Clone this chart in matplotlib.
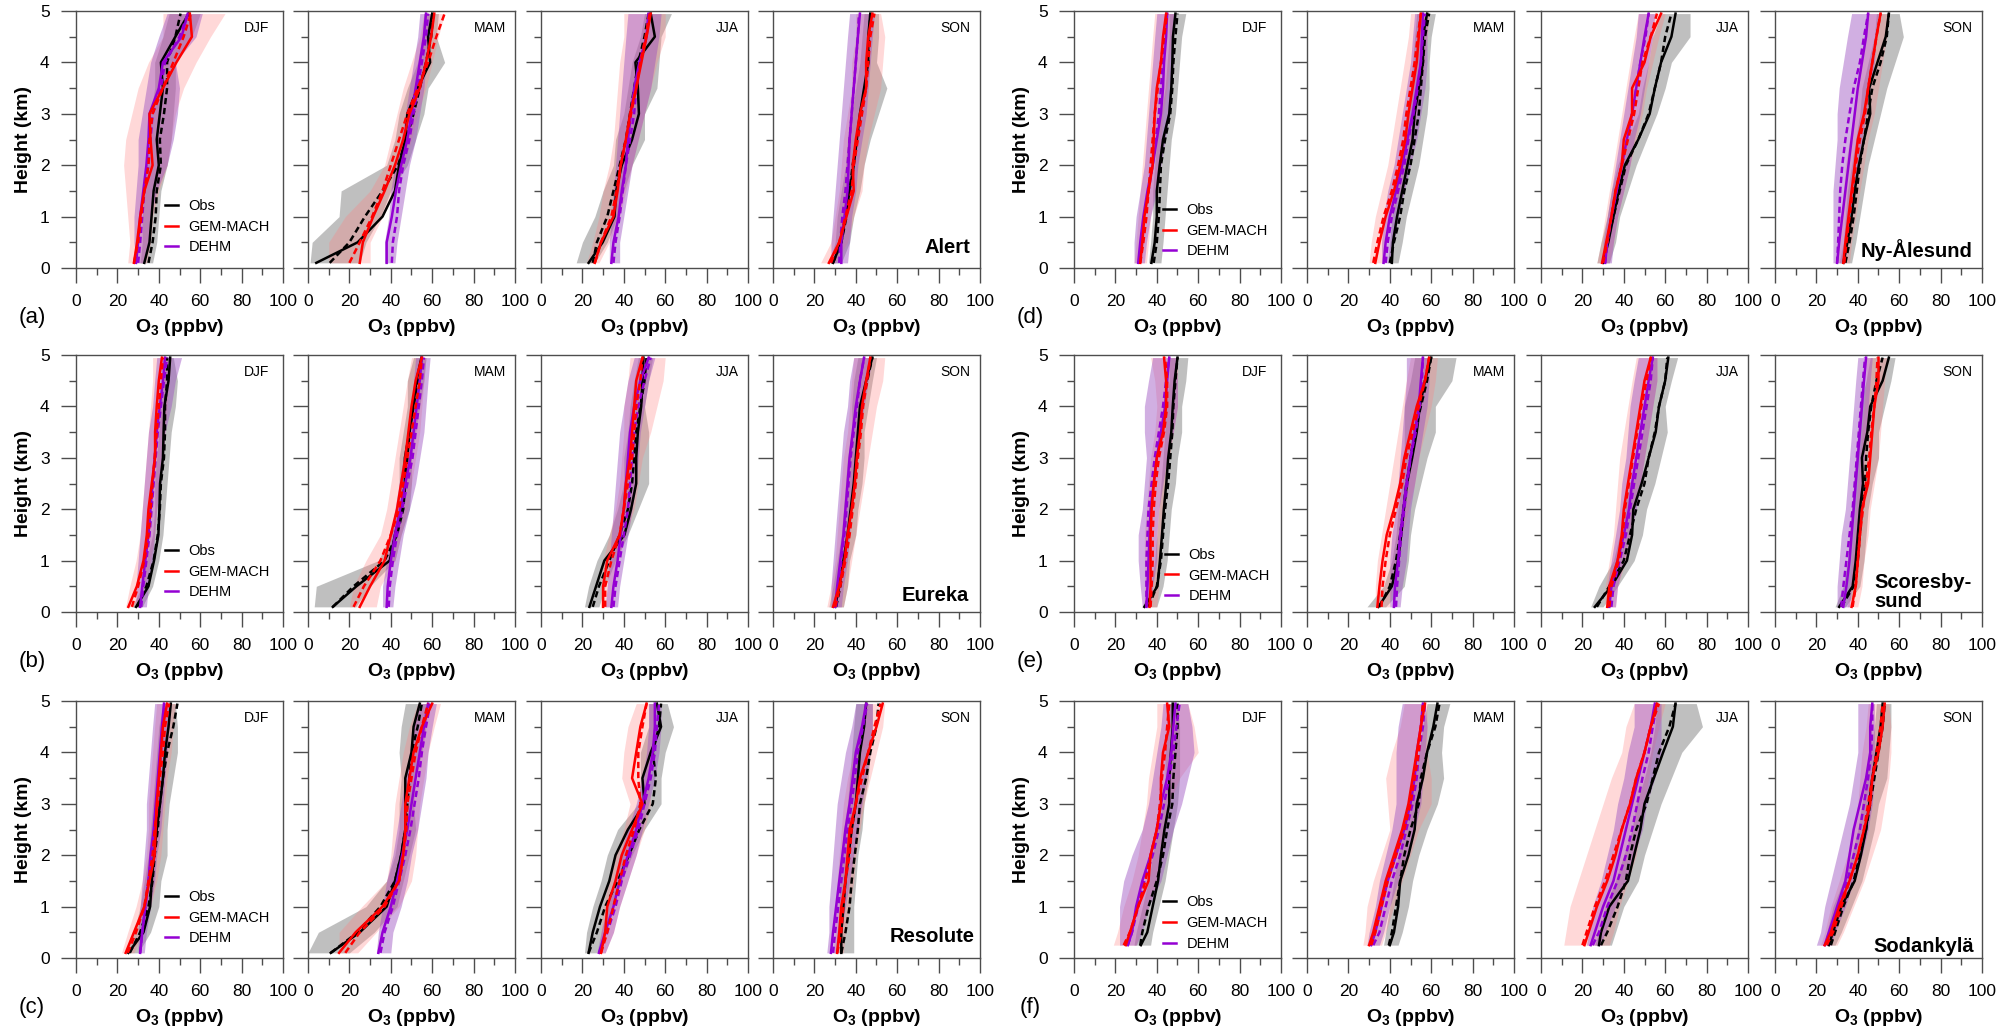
import matplotlib
matplotlib.use('Agg')
import matplotlib.pyplot as plt
from matplotlib.ticker import MultipleLocator

plt.rcParams['font.family'] = ['Liberation Sans', 'DejaVu Sans']
plt.rcParams['mathtext.fontset'] = 'custom'
plt.rcParams['mathtext.rm'] = 'Liberation Sans'
plt.rcParams['mathtext.bf'] = 'Liberation Sans:bold'

# heights (km) of the read-off levels
heights = [0.1, 0.5, 1.0, 1.5, 2.0, 2.5, 3.0, 3.5, 4.0, 4.5, 4.95]
heights_sod = [0.25, 0.5, 1.0, 1.5, 2.0, 2.5, 3.0, 3.5, 4.0, 4.5, 4.95]

seasons = ['DJF', 'MAM', 'JJA', 'SON']
stations = ['Alert', 'Eureka', 'Resolute', 'Ny-Ålesund', 'Scoresby-\nsund', 'Sodankylä']
letters = ['(a)', '(b)', '(c)', '(d)', '(e)', '(f)']

# each profile: [median, mean, low, high]  (O3, ppbv)
# ---- Alert
alert_djf_obs = [[33, 35.5, 36.5, 37.5, 40, 39, 40.5, 42, 41, 48, 54.5],
                 [35, 37, 38.5, 39, 41, 40.5, 42.5, 44, 44, 48, 50.5],
                 [31, 32, 32, 33, 34, 35, 36, 38, 38, 42, 45],
                 [37, 39, 40, 41, 44, 46, 47, 48, 48, 56, 60]]
alert_djf_gem = [[28, 29.5, 31, 33, 37, 36, 35.5, 42, 48.5, 56, 55],
                 [28, 30, 31.5, 33, 35, 35.5, 37, 42, 47, 52, 55.5],
                 [25, 26, 25, 24, 23, 24, 27, 30, 35, 42, 42],
                 [34, 36, 37, 40, 44, 46, 48, 52, 58, 65, 72]]
alert_djf_dehm = [[29, 30, 31, 32.5, 34, 35, 35.5, 40, 42, 51, 54],
                  [30, 31, 32, 33, 35, 36, 37, 41, 43, 50, 54],
                  [29, 28, 28, 29, 30, 30, 32, 34, 36, 40, 44],
                  [33, 35, 36, 39, 44, 47, 49, 50, 48, 58, 61]]
alert_mam_obs = [[4, 24, 36, 42, 44, 47, 48, 53, 59, 58, 60],
                 [10.5, 20, 27.5, 36, 43.5, 47.5, 51, 54, 57, 59.5, 60.5],
                 [1, 2, 15, 16, 38, 42, 44, 48, 53, 55, 56],
                 [25, 28, 35, 40, 48, 52, 56, 58, 66, 62, 63]]
alert_mam_gem = [[25, 26.5, 31.5, 37, 42, 46, 49, 54, 57, 59.5, 61],
                 [20, 25, 31, 36, 40, 44, 48, 53, 58, 62, 66],
                 [10, 10, 18, 30, 37, 40, 43, 46, 50, 54, 56],
                 [30, 30, 36, 42, 46, 50, 53, 57, 60, 63, 66]]
alert_mam_dehm = [[38, 38, 40.5, 42.5, 45, 48, 50, 52, 54, 56, 57],
                  [40.5, 41, 43, 44, 46, 49, 51, 53, 55, 57, 58],
                  [37, 37, 39, 40, 42, 45, 47, 49, 51, 53, 54],
                  [42, 43, 45, 47, 49, 52, 54, 56, 57, 59, 60]]
alert_jja_obs = [[23, 29.8, 35.5, 36.3, 39, 44, 47.3, 46.8, 45.6, 55, 53],
                 [25, 27, 32, 35, 38, 41, 43, 45, 47, 50, 52],
                 [17, 20, 26, 30, 35, 36, 40, 42, 44, 48, 50],
                 [26, 32, 37, 40, 44, 50, 50, 56, 57, 58, 63]]
alert_jja_gem = [[26, 29, 35, 37, 38.5, 41, 43, 46, 48.5, 51, 53],
                 [26, 29, 34, 36.5, 38.5, 41, 43.5, 46, 48, 50.5, 52.5],
                 [22, 25, 28, 30, 33, 35, 36, 37, 38, 40, 40],
                 [28, 33, 38, 41, 44, 47, 50, 53, 56, 60, 60]]
alert_jja_dehm = [[34, 35, 37.5, 39, 41, 42, 43.5, 45, 47.5, 51, 52],
                  [35, 36, 38, 39.5, 41, 43, 45, 46, 48, 51, 52],
                  [33, 33, 34, 35, 36, 37, 38, 39, 40, 41, 42],
                  [38, 38, 40, 42, 44, 47, 50, 53, 55, 57, 58]]
alert_son_obs = [[29, 33, 35, 37, 39, 40.5, 42, 44, 46, 46, 47],
                 [29, 33, 35.5, 37, 38.5, 40.5, 42.5, 44.5, 46, 46.5, 47],
                 [27, 30, 31, 33, 35, 36, 38, 40, 42, 43, 44],
                 [33, 37, 39, 42, 44, 47, 51, 55, 50, 51, 51]]
alert_son_gem = [[27, 32, 35.5, 39, 38.5, 40, 42, 45, 45, 46, 48],
                 [28, 32, 35, 38, 39, 41, 43, 45, 46, 47, 49],
                 [23, 28, 30, 32, 33, 34, 36, 38, 38, 40, 40],
                 [30, 36, 39, 43, 44, 46, 49, 52, 53, 54, 52]]
alert_son_dehm = [[33, 33, 34.5, 36, 36.5, 37, 38, 39, 40, 41, 42],
                  [32, 32.5, 33.5, 35, 36, 37, 38, 39, 40, 41, 41.5],
                  [28, 28, 29, 30, 31, 32, 33, 34, 35, 36, 37],
                  [36, 37, 38, 40, 41, 43, 45, 46, 47, 48, 49]]
# ---- Eureka
eureka_djf_obs = [[29, 35, 37.7, 39.8, 40.3, 40.6, 42, 42.3, 42.7, 44.7, 45.5],
                  [29.5, 34, 37.5, 39.5, 40.5, 41, 42.5, 43, 43, 44, 44],
                  [27, 32, 34, 37, 38, 38, 39, 40, 41, 42, 42],
                  [32, 37, 40, 42, 43, 44, 45, 46, 48, 49, 47]]
eureka_djf_gem = [[25.3, 29.4, 32.6, 34.2, 35, 36.6, 38.2, 38.2, 39, 40, 41.5],
                  [27, 30, 33, 35, 36, 37, 38, 39, 40, 41, 42],
                  [24, 26, 29, 31, 32, 33, 34, 35, 36, 37, 37],
                  [30, 33, 36, 38, 39, 40, 42, 43, 44, 45, 46]]
eureka_djf_dehm = [[31, 32, 33.5, 35, 36, 37, 38, 39, 40.5, 42, 43],
                   [31.5, 32.5, 34, 35.5, 36.5, 37.5, 38.5, 39.5, 41, 42.5, 44],
                   [29, 29, 30, 31, 32, 33, 34, 35, 37, 38, 39],
                   [34, 35, 37, 38, 39, 41, 42, 43, 46, 48, 51]]
eureka_mam_obs = [[12, 23.4, 39.5, 42, 45, 46.8, 46.8, 49, 50.8, 52.4, 54.8],
                  [12, 22, 37, 43, 46, 47, 48, 49, 51, 53, 55],
                  [3, 4, 34, 40, 43, 44, 44, 46, 48, 48, 51],
                  [23, 30, 42, 45, 49, 50, 50, 52, 54, 56, 57]]
eureka_mam_gem = [[25, 30, 37, 40, 43, 45, 47, 48.5, 50, 52, 55],
                  [22, 27, 35, 40, 44, 46, 48, 50, 52, 54, 55],
                  [20, 22, 28, 35, 38, 40, 42, 44, 46, 48, 50],
                  [33, 35, 42, 45, 48, 50, 52, 54, 55, 56, 57]]
eureka_mam_dehm = [[38, 38.5, 40, 42, 44.5, 47, 49.5, 51, 52.5, 54, 55],
                   [39, 39.5, 41, 43, 45.5, 48, 50.5, 52, 53.5, 55, 56],
                   [36, 36, 38, 40, 42, 44, 46, 48, 50, 51, 52],
                   [41, 42, 44, 46, 49, 52, 54, 56, 57, 58, 59]]
eureka_jja_obs = [[23.4, 26.6, 30.6, 40.3, 43.5, 46, 46, 46.8, 48.4, 49, 49.5],
                  [25, 28, 33, 38, 42, 44, 45, 46, 48, 50, 51],
                  [21, 23, 27, 33, 37, 40, 40, 42, 43, 45, 47],
                  [28, 31, 36, 42, 47, 52, 52, 52, 50, 52, 54]]
eureka_jja_gem = [[30, 30, 32, 38, 40, 41, 43, 44, 45, 46, 49],
                  [31, 31, 34, 38, 40, 42, 44, 45, 46, 48, 49],
                  [29, 29, 30, 33, 36, 38, 39, 40, 40, 42, 43],
                  [34, 34, 37, 41, 45, 47, 49, 53, 56, 59, 60]]
eureka_jja_dehm = [[34, 35, 37, 38.5, 40, 41, 42, 43, 45, 48, 52],
                   [35, 36, 38, 40, 42, 43, 44, 45, 47, 50, 53],
                   [31, 32, 33, 34, 35, 36, 37, 38, 40, 42, 45],
                   [37, 38, 40, 42, 44, 46, 47, 48, 50, 52, 55]]
eureka_son_obs = [[30, 32, 34, 36, 37.5, 39, 40, 41, 42, 45, 48],
                  [30.5, 32.5, 34.5, 36.5, 38, 39.5, 40.5, 41.5, 42.5, 45.5, 48],
                  [27, 29, 31, 33, 34, 35, 36, 38, 38, 39, 41],
                  [34, 36, 37, 40, 41, 43, 44, 44, 46, 48, 50]]
eureka_son_gem = [[29, 32, 34.5, 36, 38, 39.5, 40.5, 42, 43, 45, 47],
                  [30, 32.5, 35, 37, 38.5, 40, 41, 42.5, 43.5, 45.5, 47],
                  [26, 28, 30, 31, 32, 33, 34, 36, 37, 38, 39],
                  [34, 36, 38, 40, 42, 44, 46, 48, 50, 53, 54]]
eureka_son_dehm = [[30, 31, 32.5, 34, 35, 36, 37, 38.5, 40, 42, 44],
                   [30.5, 31.5, 33, 34.5, 35.5, 36.5, 37.5, 39, 40.5, 42, 44],
                   [28, 28, 29, 30, 31, 32, 33, 34, 36, 37, 39],
                   [33, 34, 36, 37, 38, 39, 40, 42, 44, 46, 48]]
# ---- Resolute
resolute_djf_obs = [[25.3, 32.6, 35.8, 36.6, 37.7, 39, 40.6, 42, 43, 44.7, 45.8],
                    [26, 31, 35, 37, 38, 39.5, 40.5, 42, 44, 47, 49],
                    [24, 28, 31, 33, 35, 36, 37, 38, 39, 40, 42],
                    [30, 36, 40, 41, 44, 44, 45, 47, 49, 49, 48]]
resolute_djf_gem = [[24, 28, 33, 35.5, 38, 38.5, 39, 40, 41, 42, 44],
                    [25, 29, 33, 35, 37, 38, 39.5, 40.5, 42, 43, 45],
                    [22, 25, 29, 32, 34, 35, 35, 36, 37, 38, 39],
                    [28, 32, 36, 39, 41, 42, 43, 44, 46, 47, 48]]
resolute_djf_dehm = [[31, 32, 33.5, 35, 36, 37.5, 38.5, 39.5, 40.5, 41.5, 42.5],
                     [31, 32, 33.5, 35, 36.5, 38, 39, 40, 41, 42, 43],
                     [30, 30, 31, 32, 33, 34, 34, 35, 36, 37, 38],
                     [33, 34, 36, 38, 39, 41, 42, 43, 44, 45, 46]]
resolute_mam_obs = [[11, 25, 38, 42, 45, 47, 47, 47, 50, 51, 54],
                    [11, 24, 35, 42, 45, 47, 48, 49, 50, 53, 55],
                    [0, 5, 28, 38, 42, 44, 44, 45, 44, 45, 47],
                    [20, 32, 43, 46, 49, 52, 51, 52, 55, 57, 58]]
resolute_mam_gem = [[15, 23, 36, 44, 46, 47, 47, 49, 51, 55, 60],
                    [18, 25, 37, 44, 46, 47.5, 48, 50, 52, 55, 58],
                    [15, 15, 26, 38, 40, 41, 42, 44, 46, 49, 53],
                    [24, 33, 44, 50, 52, 53, 54, 56, 58, 61, 64]]
resolute_mam_dehm = [[34, 36, 40, 43, 45.5, 48, 50, 52, 54, 56, 58],
                     [35, 37, 41, 44, 47, 49.5, 51.5, 53.5, 55, 57, 59],
                     [33, 34, 36, 38, 41, 43, 45, 47, 49, 51, 53],
                     [40, 41, 45, 48, 50, 53, 55, 57, 58, 60, 62]]
resolute_jja_obs = [[23, 25, 28.5, 33, 36, 42, 50, 49, 53, 58, 56],
                    [23, 27, 31, 37, 42.5, 47.5, 54, 55.5, 54, 57, 58],
                    [21, 22, 25, 29, 32, 37, 47, 48, 48, 52, 52],
                    [27, 31, 34, 39, 44, 50, 58, 58, 60, 64, 61]]
resolute_jja_gem = [[29, 31, 32, 36, 39, 44, 49, 44, 46, 48, 51],
                    [29, 32, 35, 38, 41, 45, 48, 47, 47, 49, 51],
                    [28, 29, 30, 33, 36, 40, 43, 39, 40, 42, 46],
                    [31, 35, 38, 42, 46, 50, 53, 52, 53, 55, 55]]
resolute_jja_dehm = [[28, 31, 35, 38, 42, 46, 49, 52, 54, 55, 55],
                     [28, 32, 36, 39, 43, 47, 50, 53, 55, 56, 57],
                     [27, 29, 32, 35, 38, 42, 46, 49, 51, 52, 52],
                     [31, 35, 38, 42, 46, 49, 52, 55, 57, 58, 58]]
resolute_son_obs = [[33, 33, 34, 35, 36.5, 38, 40, 41, 42, 44, 45],
                    [33, 35, 37, 38, 39.5, 41, 42, 45, 47, 50, 51],
                    [30, 31, 32, 32, 33, 34, 36, 37, 38, 39, 40],
                    [39, 39, 39, 40, 41, 43, 44, 46, 47, 48, 48]]
resolute_son_gem = [[31, 32, 33, 35, 36, 37, 40, 42, 46, 50, 53],
                    [31, 33, 34, 35, 37, 38, 40, 43, 46, 49, 52],
                    [29, 30, 30, 31, 32, 33, 34, 36, 39, 42, 44],
                    [34, 35, 37, 39, 40, 42, 44, 47, 50, 53, 54]]
resolute_son_dehm = [[28, 29, 30.5, 32, 33.5, 35, 37, 38.5, 40, 43, 45],
                     [29, 30, 31.5, 33, 34.5, 36, 38, 39.5, 41, 43.5, 45.5],
                     [26, 27, 27, 28, 29, 30, 31, 33, 35, 38, 40],
                     [31, 33, 35, 37, 39, 41, 43, 45, 47, 48, 48]]
# ---- Ny-Alesund
nyalesund_djf_obs = [[37.4, 39, 40, 40, 41.4, 43, 46, 47, 47.5, 47.8, 49],
                     [38.5, 40, 41, 41.5, 42, 44, 46.5, 47.5, 48, 49, 50],
                     [36, 37, 38, 38, 39, 40, 42, 44, 45, 46, 46],
                     [42, 43, 44, 45, 46, 47, 49, 50, 51, 52, 54]]
nyalesund_djf_gem = [[32, 33, 34, 36, 38, 38.5, 39, 40, 42, 43, 44.5],
                     [32, 33.5, 35, 36, 37, 38, 39, 40.5, 42, 43.5, 45],
                     [29, 30, 31, 32, 33, 34, 35, 36, 37, 38, 39],
                     [35, 36, 37, 39, 41, 42, 43, 45, 46, 47, 48]]
nyalesund_djf_dehm = [[31, 32, 33.5, 35.5, 38, 40, 42, 43, 43.5, 44.5, 45],
                      [31.5, 32.5, 34, 36, 38, 39.5, 41, 42, 43, 44, 45],
                      [29, 29, 30, 32, 34, 35, 36, 37, 38, 39, 40],
                      [34, 35, 37, 40, 42, 44, 46, 47, 48, 48, 49]]
nyalesund_mam_obs = [[41, 41.5, 43.5, 46, 48.5, 51, 52, 54, 56, 56, 58],
                     [40, 42, 45, 47, 50, 52, 54, 55, 56, 57, 59],
                     [39, 40, 41, 43, 45, 47, 48, 50, 51, 52, 53],
                     [44, 46, 48, 51, 54, 56, 58, 59, 59, 60, 62]]
nyalesund_mam_gem = [[33, 35, 38, 42, 45, 47.5, 49, 51, 53, 54, 55],
                     [32, 34, 37, 41, 44, 46.5, 48, 50, 52, 53.5, 55],
                     [30, 31, 33, 36, 39, 41, 43, 45, 47, 49, 50],
                     [36, 38, 41, 45, 48, 51, 53, 55, 57, 58, 59]]
nyalesund_mam_dehm = [[37, 38, 40, 43, 46, 48.5, 51, 53, 55, 55.5, 56],
                      [38, 39, 41, 44, 47, 49, 51.5, 53.5, 55, 56, 57],
                      [36, 36, 37, 39, 42, 44, 46, 48, 50, 51, 52],
                      [40, 42, 44, 47, 50, 53, 55, 57, 58, 58, 58]]
nyalesund_jja_obs = [[30, 32.5, 35, 37.5, 40.5, 47, 52.5, 55, 58, 63, 65],
                     [30, 32, 35, 38, 41, 47, 52, 55, 58, 60, 63],
                     [27, 29, 32, 34, 37, 42, 47, 49, 52, 54, 58],
                     [33, 36, 38, 42, 46, 51, 56, 60, 63, 72, 72]]
nyalesund_jja_gem = [[29.5, 31.5, 34, 36, 39, 40, 44, 44, 50, 53, 58],
                     [30, 32, 34, 36, 39, 42, 45, 47, 49, 53, 56],
                     [27, 29, 31, 33, 35, 37, 39, 41, 43, 45, 47],
                     [33, 35, 37, 40, 43, 46, 49, 51, 54, 57, 60]]
nyalesund_jja_dehm = [[31, 32, 34, 36.5, 39, 41.5, 44, 46, 48, 50, 52],
                      [31, 32, 34, 36.5, 39, 41.5, 44, 46, 48, 50.5, 52],
                      [30, 30, 32, 34, 36, 38, 40, 42, 44, 46, 47],
                      [34, 35, 37, 40, 43, 45, 48, 50, 52, 54, 55]]
nyalesund_son_obs = [[33, 35, 37, 38.5, 40.5, 43, 46, 45.5, 49.5, 53.5, 55],
                     [34, 36, 38, 39.5, 41, 43, 45, 47, 51, 54, 55],
                     [31, 33, 34, 35, 37, 39, 41, 42, 45, 48, 49],
                     [37, 39, 41, 43, 45, 48, 51, 54, 58, 62, 60]]
nyalesund_son_gem = [[33, 34, 35.5, 37, 38.5, 40, 43, 45, 47, 49, 51],
                     [33.5, 34.5, 36, 37.5, 39, 41, 43.5, 45, 47, 49, 51],
                     [30, 31, 32, 33, 34, 36, 38, 40, 42, 44, 45],
                     [36, 37, 39, 41, 43, 45, 48, 50, 52, 54, 55]]
nyalesund_son_dehm = [[30, 31, 32.5, 34, 35.5, 37, 38.5, 40, 42, 44, 45],
                      [30, 30.5, 31, 31.5, 32.5, 34, 36, 38, 41, 43, 45],
                      [28, 28, 28, 28, 29, 30, 30, 31, 33, 35, 37],
                      [34, 35, 36, 38, 40, 42, 44, 46, 48, 49, 50]]
# ---- Scoresbysund
scoresby_djf_obs = [[34, 40.3, 41.5, 42.5, 43.4, 44.6, 45.5, 47, 47.7, 48.6, 50],
                    [36, 40, 42, 43, 44, 45.5, 46.5, 47.5, 48, 49, 50],
                    [33, 37, 39, 40, 41, 42, 43, 44, 44, 46, 46],
                    [40, 43, 45, 46, 47, 49, 50, 52, 52, 54, 55]]
scoresby_djf_gem = [[36.5, 37, 37, 37, 37.5, 38.5, 40, 43, 44.5, 44.5, 43.5],
                    [37, 37.5, 38, 38, 38.5, 39.5, 41, 43.5, 45, 45, 44],
                    [34, 34, 34, 34, 35, 36, 37, 39, 40, 39, 37],
                    [40, 41, 41, 42, 43, 44, 46, 48, 50, 50, 50]]
scoresby_djf_dehm = [[35, 35.5, 36, 36.5, 37, 38.5, 40, 42, 44, 45, 46],
                     [35, 35, 35, 35.5, 36, 37.5, 39, 41, 43, 44.5, 46],
                     [33, 32, 31, 31, 33, 34, 35, 34, 34, 36, 38],
                     [37, 38, 40, 40, 41, 43, 45, 48, 50, 50, 49]]
scoresby_mam_obs = [[34.5, 41, 44, 45.5, 46.8, 48.3, 50.8, 53, 54.5, 57, 60],
                    [35, 40, 43, 45, 46.5, 48, 50, 52, 55, 58, 60],
                    [29, 37, 41, 43, 44, 46, 47, 47, 47, 50, 52],
                    [38, 47, 49, 50, 52, 55, 58, 62, 62, 70, 72]]
scoresby_mam_gem = [[34, 35, 36.5, 38.5, 42, 45, 47, 50, 53, 57, 59],
                    [36, 36.5, 38, 40, 43, 46, 48, 51, 54, 57, 59],
                    [33, 33, 34, 36, 38, 40, 42, 44, 46, 48, 50],
                    [40, 41, 43, 46, 49, 52, 54, 57, 60, 62, 63]]
scoresby_mam_dehm = [[42, 42.5, 44, 45, 46.5, 48, 50, 52, 54, 55, 56],
                     [43, 43.5, 44.5, 45.5, 47, 48.5, 50, 52.5, 54.5, 55.5, 56],
                     [40, 40, 40, 41, 43, 44, 45, 46, 47, 48, 48],
                     [45, 46, 48, 49, 50, 52, 54, 56, 58, 59, 59]]
scoresby_jja_obs = [[26, 34, 41.5, 44, 44.6, 48.6, 52, 55.4, 57, 60, 61.5],
                    [27, 33, 40, 43, 46, 50, 52, 55, 57, 60, 61],
                    [24, 28, 35, 38, 40, 43, 47, 49, 50, 52, 54],
                    [30, 37, 45, 49, 51, 55, 58, 61, 60, 63, 66]]
scoresby_jja_gem = [[32, 33, 37, 39, 40, 42, 44, 46, 48, 50, 53],
                    [33, 34, 37.5, 39.5, 40.5, 42.5, 44.5, 46.5, 48.5, 51, 53],
                    [31, 31, 33, 35, 36, 37, 38, 40, 42, 44, 46],
                    [36, 37, 41, 43, 45, 48, 50, 52, 54, 56, 56]]
scoresby_jja_dehm = [[33, 34, 37, 40, 42.5, 44, 46, 48, 50, 52, 54],
                     [34, 35, 38, 41, 43, 45, 47, 49, 51, 53, 54],
                     [32, 32, 34, 36, 38, 39, 41, 42, 43, 45, 47],
                     [36, 37, 40, 43, 46, 48, 50, 52, 54, 56, 56]]
scoresby_son_obs = [[31, 37.5, 39, 40, 41, 42.5, 42, 44.6, 46, 52, 55],
                    [32, 38, 40, 41, 42, 43.5, 44, 45, 46.5, 49, 52],
                    [29, 33, 35, 36, 37, 38, 39, 40, 41, 44, 46],
                    [34, 41, 43, 44, 45, 47, 50, 50, 53, 56, 58]]
scoresby_son_gem = [[37, 39, 40, 41, 42, 45, 46, 47, 48, 50, 50],
                    [37.5, 39, 40, 41, 42.5, 44, 45.5, 46.5, 48, 49, 49.5],
                    [35, 36, 37, 38, 39, 40, 41, 42, 43, 44, 44],
                    [40, 42, 43, 45, 46, 48, 50, 51, 52, 53, 54]]
scoresby_son_dehm = [[33, 34.5, 36, 37, 38, 39, 40, 41, 42, 43, 44],
                     [32, 33, 34.5, 36, 37.5, 38.5, 39.5, 40.5, 41.5, 42.5, 43.5],
                     [30, 30, 31, 32, 34, 35, 36, 37, 38, 39, 40],
                     [36, 37, 39, 40, 41, 42, 43, 44, 45, 46, 47]]
# ---- Sodankyla (levels from heights_sod)
sodankyla_djf_obs = [[32.3, 35.4, 38, 40.6, 42, 43.7, 46, 46, 46.8, 47.7, 47.7],
                     [32, 33, 36, 40, 43, 45, 47.5, 48, 49, 50, 50],
                     [29, 30, 33, 36, 38, 40, 43, 44, 44, 45, 45],
                     [37, 38, 41, 44, 46, 48, 50, 51, 51, 51, 50]]
sodankyla_djf_gem = [[25, 27, 31, 36, 37, 40, 42, 42, 43, 46, 45],
                     [24, 27, 31, 34.5, 37, 40, 41.5, 42.5, 44, 45, 46],
                     [19, 21, 24, 28, 31, 33, 35, 36, 38, 40, 40],
                     [30, 32, 36, 40, 42, 44, 46, 51, 60, 58, 55]]
sodankyla_djf_dehm = [[26, 28, 30, 33, 37, 40, 42, 45, 47, 48, 49],
                      [26, 28, 31, 34, 38, 41, 43.5, 46, 48, 49.5, 51],
                      [22, 22, 22, 24, 28, 33, 36, 38, 40, 42, 43],
                      [30, 33, 36, 42, 45, 48, 52, 55, 58, 57, 55]]
sodankyla_mam_obs = [[40, 42, 44, 45, 49, 52, 53, 56, 58, 61, 63],
                     [39.5, 41, 43, 45, 47, 50, 54, 55, 58, 62, 64],
                     [37, 38, 40, 42, 44, 47, 49, 52, 54, 56, 58],
                     [44, 46, 49, 51, 54, 58, 63, 66, 65, 66, 69]]
sodankyla_mam_gem = [[30, 32, 35, 38, 42, 46, 49, 51, 53, 55, 57],
                     [31, 33, 36, 39, 43, 47, 50, 52, 54, 55, 56],
                     [27, 28, 29, 32, 36, 40, 39, 38, 41, 45, 47],
                     [36, 38, 42, 46, 50, 54, 60, 60, 58, 58, 58]]
sodankyla_mam_dehm = [[31, 33, 36, 39, 43, 47, 50, 52, 53, 55, 56],
                      [32, 35, 38, 41, 45, 48, 51, 53, 54, 56, 57],
                      [29, 30, 33, 35, 38, 41, 43, 43, 43, 44, 46],
                      [35, 37, 40, 44, 48, 52, 55, 56, 57, 58, 57]]
sodankyla_jja_obs = [[28, 29, 33, 42, 45, 48, 50, 54.5, 59, 63.7, 65],
                     [29, 32, 37, 41, 43, 46, 51, 54, 57, 62, 65],
                     [26, 28, 31, 36, 40, 44, 46, 50, 53, 55, 56],
                     [34, 36, 40, 47, 50, 54, 58, 63, 68, 78, 75]]
sodankyla_jja_gem = [[21, 23, 27, 32, 36, 39, 43, 46, 50, 53, 56],
                     [20, 22, 26, 31, 35, 39, 43, 46, 50, 53, 57],
                     [11, 12, 14, 18, 22, 26, 30, 34, 39, 41, 45],
                     [33, 35, 38, 42, 46, 48, 50, 52, 54, 57, 60]]
sodankyla_jja_dehm = [[24, 26, 30, 35, 38, 41, 44, 47, 50, 53, 55],
                      [25, 28, 32, 37, 41, 44, 46.5, 49, 52, 54, 56],
                      [22, 23, 25, 29, 32, 35, 37, 40, 42, 45, 45],
                      [29, 31, 36, 41, 45, 49, 51, 55, 58, 58, 58]]
sodankyla_son_obs = [[26, 28, 32, 38.5, 41.5, 44, 45.5, 47, 49, 51, 52],
                     [27, 29, 33, 38, 41, 44, 46, 48, 50, 52, 53],
                     [24, 25, 28, 33, 37, 40, 42, 44, 46, 48, 49],
                     [29, 32, 37, 42, 45, 48, 50, 54, 55, 56, 56]]
sodankyla_son_gem = [[24, 27, 31, 36, 40, 43, 46, 47, 50, 52, 53],
                     [25, 28, 32, 36, 40, 43, 45, 47, 49, 51, 52],
                     [22, 24, 27, 31, 35, 38, 40, 41, 42, 44, 45],
                     [30, 33, 38, 43, 47, 51, 53, 55, 56, 56, 55]]
sodankyla_son_dehm = [[24, 26, 30, 34, 36, 38, 41, 44, 46, 46, 47],
                      [25, 27, 31, 35, 38, 41, 43, 45, 46.5, 47, 47],
                      [20, 22, 24, 27, 30, 33, 36, 38, 40, 40, 40],
                      [27, 29, 34, 38, 42, 45, 47, 48, 48, 48, 48]]

profiles = [
    [(alert_djf_obs, alert_djf_gem, alert_djf_dehm), (alert_mam_obs, alert_mam_gem, alert_mam_dehm),
     (alert_jja_obs, alert_jja_gem, alert_jja_dehm), (alert_son_obs, alert_son_gem, alert_son_dehm)],
    [(eureka_djf_obs, eureka_djf_gem, eureka_djf_dehm), (eureka_mam_obs, eureka_mam_gem, eureka_mam_dehm),
     (eureka_jja_obs, eureka_jja_gem, eureka_jja_dehm), (eureka_son_obs, eureka_son_gem, eureka_son_dehm)],
    [(resolute_djf_obs, resolute_djf_gem, resolute_djf_dehm), (resolute_mam_obs, resolute_mam_gem, resolute_mam_dehm),
     (resolute_jja_obs, resolute_jja_gem, resolute_jja_dehm), (resolute_son_obs, resolute_son_gem, resolute_son_dehm)],
    [(nyalesund_djf_obs, nyalesund_djf_gem, nyalesund_djf_dehm), (nyalesund_mam_obs, nyalesund_mam_gem, nyalesund_mam_dehm),
     (nyalesund_jja_obs, nyalesund_jja_gem, nyalesund_jja_dehm), (nyalesund_son_obs, nyalesund_son_gem, nyalesund_son_dehm)],
    [(scoresby_djf_obs, scoresby_djf_gem, scoresby_djf_dehm), (scoresby_mam_obs, scoresby_mam_gem, scoresby_mam_dehm),
     (scoresby_jja_obs, scoresby_jja_gem, scoresby_jja_dehm), (scoresby_son_obs, scoresby_son_gem, scoresby_son_dehm)],
    [(sodankyla_djf_obs, sodankyla_djf_gem, sodankyla_djf_dehm), (sodankyla_mam_obs, sodankyla_mam_gem, sodankyla_mam_dehm),
     (sodankyla_jja_obs, sodankyla_jja_gem, sodankyla_jja_dehm), (sodankyla_son_obs, sodankyla_son_gem, sodankyla_son_dehm)],
]

line_colors = ['black', '#ff0000', '#9400d3']
band_colors = [('#8c8c8c', 0.55), ('#ff8080', 0.3), ('#9b4fc0', 0.45)]
names = ['Obs', 'GEM-MACH', 'DEHM']

# station label placement (axes coords) in the SON panel
station_pos = [(0.955, 0.078, 'right'), (0.947, 0.066, 'right'), (0.975, 0.082, 'right'),
               (0.952, 0.070, 'right'), (0.478, 0.078, 'left'), (0.963, 0.045, 'right')]
legend_pos = [(0.43, 0.16), (0.43, 0.156), (0.43, 0.156),
              (0.43, 0.145), (0.44, 0.142), (0.43, 0.136)]

W, H = 1999, 1034
col_left = [[76, 308, 541, 773], [1074, 1307, 1541, 1775]]
row_top = [11, 355, 701]
pw, ph = 207, 257
frame = '#4d4d4d'

fig = plt.figure(figsize=(W / 100, H / 100), dpi=100)

for si, station in enumerate(stations):
    grp, row = si // 3, si % 3
    top = row_top[row]
    hh = heights_sod if si == 5 else heights
    for ci, season in enumerate(seasons):
        x0 = col_left[grp][ci]
        ax = fig.add_axes([x0 / W, 1 - (top + ph) / H, pw / W, ph / H])
        sets = profiles[si][ci]
        for (med, mean, lo, hi), (bc, ba) in zip(sets, band_colors):
            ax.fill_betweenx(hh, lo, hi, color=bc, alpha=ba, lw=0)
        handles = {}
        for k in [0, 2, 1]:
            med, mean = sets[k][0], sets[k][1]
            ax.plot(mean, hh, color=line_colors[k], lw=1.8, ls=(0, (2.5, 1.5)))
            ln, = ax.plot(med, hh, color=line_colors[k], lw=1.8)
            handles[k] = ln

        ax.set_xlim(0, 100)
        ax.set_ylim(0, 5)
        ax.xaxis.set_major_locator(MultipleLocator(20))
        ax.xaxis.set_minor_locator(MultipleLocator(10))
        ax.yaxis.set_major_locator(MultipleLocator(1))
        ax.yaxis.set_minor_locator(MultipleLocator(0.5))
        ax.tick_params(which='major', direction='out', length=11, width=1.0,
                       color=frame, labelsize=12.5, pad=8)
        ax.tick_params(which='minor', direction='out', length=5, width=1.0, color=frame)
        if ci > 0:
            ax.tick_params(axis='y', labelleft=False)
        for sp in ax.spines.values():
            sp.set_color(frame)
            sp.set_linewidth(1.0)

        sx = 0.935 if ci == 0 else 0.955
        ax.text(sx, 0.935, season, transform=ax.transAxes, ha='right', va='center', fontsize=10)

        fig.text((x0 + pw / 2) / W, 1 - (top + 317) / H, r'$\mathbf{O_3}$ (ppbv)',
                 ha='center', va='center', fontsize=14, fontweight='bold')

        if ci == 0:
            lx, ly = legend_pos[si]
            ax.legend([handles[0], handles[1], handles[2]], names, loc='center left',
                      bbox_to_anchor=(lx, ly), frameon=False, fontsize=10.5,
                      handlelength=0.9, handletextpad=0.7, labelspacing=0.45,
                      borderpad=0, borderaxespad=0)
        if ci == 3:
            px_, py_, ha_ = station_pos[si]
            ax.text(px_, py_, station, transform=ax.transAxes, ha=ha_, va='center',
                    fontsize=14.5, fontweight='bold', linespacing=1.0)

    # y label and panel letter for the row
    ylx = 24 if grp == 0 else 1022
    fig.text(ylx / W, 1 - (top + 128.5) / H, 'Height (km)', rotation=90,
             ha='center', va='center', fontsize=14, fontweight='bold')
    letx = 32 if grp == 0 else 1030
    fig.text(letx / W, 1 - (top + 306) / H, letters[si], ha='center', va='center', fontsize=16)

fig.savefig('out.png', dpi=100)
